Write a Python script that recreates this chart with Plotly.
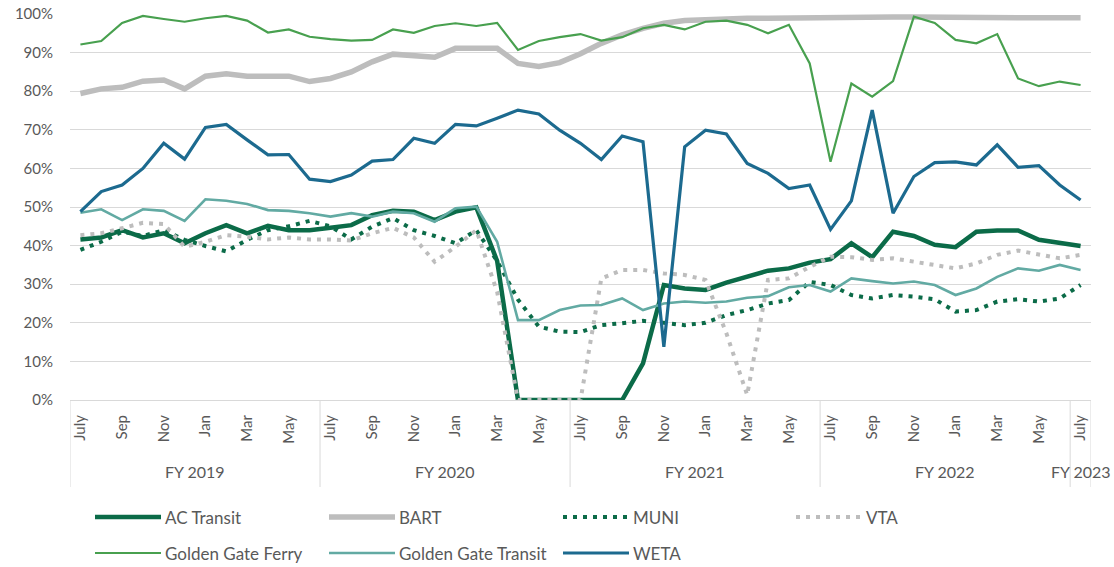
import plotly.graph_objects as go

# ---------------- data ----------------
periods = [f"{m} {y}" for y, ms in [(2018, ["Jul","Aug","Sep","Oct","Nov","Dec"]),
                                    (2019, ["Jan","Feb","Mar","Apr","May","Jun","Jul","Aug","Sep","Oct","Nov","Dec"]),
                                    (2020, ["Jan","Feb","Mar","Apr","May","Jun","Jul","Aug","Sep","Oct","Nov","Dec"]),
                                    (2021, ["Jan","Feb","Mar","Apr","May","Jun","Jul","Aug","Sep","Oct","Nov","Dec"]),
                                    (2022, ["Jan","Feb","Mar","Apr","May","Jun","Jul"])] for m in ms]

fiscal_years = ["FY 2019", "FY 2020", "FY 2021", "FY 2022", "FY 2023"]
fy_start_index = [0, 12, 24, 36, 48]
month_tick_labels = ["July", "Sep", "Nov", "Jan", "Mar", "May"]

ac_transit = [41.6,42.1,44.0,42.1,43.2,40.6,43.2,45.3,43.2,45.1,44.0,44.0,44.6,
              45.3,47.9,49.0,48.8,46.6,48.8,49.9,36.0,0,0,0,0,0,0,9.5,29.8,28.9,
              28.5,30.4,32.1,33.5,34.1,35.6,36.5,40.6,37.0,43.6,42.5,40.2,39.6,43.6,
              43.9,43.9,41.5,40.8,39.9]
bart = [79.4,80.6,81.0,82.6,82.9,80.6,83.9,84.5,83.9,83.8,83.9,82.5,83.3,
        85.0,87.6,89.6,89.1,88.8,91.1,91.1,91.1,87.2,86.4,87.4,89.7,92.4,94.6,
        96.3,97.6,98.3,98.6,98.8,98.9,98.9,99.0,99.0,99.1,99.2,99.3,99.2,99.2,
        99.1,99.1,99.0,99.0,99.0,99.0,99.0,99.0]
muni = [38.9,41.0,43.6,42.5,44.0,41.5,39.9,38.5,41.5,44.0,45.0,46.4,45.0,
        41.6,44.9,47.1,44.0,42.5,40.6,44.0,36.0,26.0,19.0,17.7,17.6,19.4,19.9,
        20.5,20.0,19.4,20.0,22.0,23.3,25.0,25.9,30.6,29.8,27.2,26.3,27.2,26.8,
        26.1,22.9,23.3,25.5,26.1,25.5,26.3,29.8]
vta = [42.7,43.2,44.5,45.9,45.6,39.7,41.0,42.7,42.3,41.6,42.1,41.6,41.6,
       41.3,43.2,44.6,42.1,35.8,39.7,44.0,28.0,0,0,0,0,31.5,33.7,33.7,32.8,
       32.4,31.1,17.3,1.3,31.1,31.5,34.5,37.1,37.0,36.3,36.7,35.8,35.0,34.1,
       35.4,37.6,38.7,37.6,36.7,37.6]
golden_gate_ferry = [92.1,93.0,97.7,99.5,98.7,98.0,98.9,99.5,98.3,95.2,96.0,94.1,93.5,
                     93.1,93.3,96.0,95.1,96.9,97.6,96.9,97.7,90.7,93.0,94.0,94.8,93.1,
                     94.0,96.3,97.2,96.0,98.0,98.3,97.2,95.0,97.2,87.2,61.7,82.0,78.6,
                     82.6,99.3,97.7,93.3,92.4,94.8,83.3,81.3,82.5,81.6]
golden_gate_transit = [48.5,49.4,46.6,49.4,49.0,46.4,52.0,51.6,50.8,49.2,49.0,48.4,47.5,
                       48.4,47.5,48.8,48.4,46.2,49.7,50.1,41.0,20.7,20.7,23.3,24.5,24.6,
                       26.3,23.3,25.0,25.5,25.2,25.5,26.5,26.9,29.2,29.8,28.1,31.5,30.8,
                       30.2,30.7,29.8,27.2,28.9,31.9,34.1,33.5,35.0,33.7]
weta = [48.8,54.0,55.7,60.0,66.5,62.4,70.6,71.4,67.4,63.5,63.6,57.2,56.6,
        58.3,61.9,62.3,67.8,66.5,71.4,71.0,73.0,75.1,74.1,69.9,66.5,62.3,68.4,
        66.9,13.8,65.6,69.9,68.9,61.3,58.7,54.8,55.7,44.2,51.6,75.1,48.4,57.9,
        61.5,61.7,60.9,66.1,60.3,60.7,55.7,51.8]

series_names = ["AC Transit", "BART", "MUNI", "VTA",
                "Golden Gate Ferry", "Golden Gate Transit", "WETA"]
series_values = [ac_transit, bart, muni, vta,
                 golden_gate_ferry, golden_gate_transit, weta]

# ---------------- styles ----------------
styles = {
    "AC Transit": dict(color="#0B6B48", width=4.5, dash="solid"),
    "BART": dict(color="#BDBDBD", width=5.5, dash="solid"),
    "MUNI": dict(color="#0B6B48", width=4, dash="4px,6px"),
    "VTA": dict(color="#BDBDBD", width=4, dash="4px,6px"),
    "Golden Gate Ferry": dict(color="#48A04F", width=2.2, dash="solid"),
    "Golden Gate Transit": dict(color="#62AAA3", width=2.6, dash="solid"),
    "WETA": dict(color="#1C6A8F", width=3.2, dash="solid"),
}

FONT = "Lato, 'Liberation Sans', Arial, sans-serif"
TXT = "#595959"
GRID = "#D9D9D9"

W, H = 1114, 567
PL, PR, PT, PB = 70, 1091, 14, 400  # plot area in pixels


def px_x(px):
    return (px - PL) / (PR - PL)


def px_y(py):
    return (PB - py) / (PB - PT)


x = list(range(len(periods)))

fig = go.Figure()
for name, vals in zip(series_names, series_values):
    st = styles[name]
    fig.add_trace(go.Scatter(
        x=x, y=[v / 100 for v in vals], mode="lines", name=name,
        line=dict(color=st["color"], width=st["width"], dash=st["dash"]),
        showlegend=False, hoverinfo="skip",
    ))

tickvals = x[::2]
ticktext = [month_tick_labels[i % 6] for i in range(len(tickvals))]

fig.update_xaxes(
    range=[-0.5, len(x) - 0.5], tickvals=tickvals, ticktext=ticktext,
    tickangle=-90, showgrid=False, zeroline=False, showline=True,
    linecolor=GRID, linewidth=1, ticks="", ticklabelstandoff=8,
    automargin=False,
    tickfont=dict(family=FONT, size=15, color=TXT),
)
fig.update_yaxes(
    range=[0, 1], dtick=0.1, tickformat=".0%", showgrid=True,
    gridcolor=GRID, gridwidth=1, zeroline=False, showline=False,
    ticks="", ticklabelstandoff=16, automargin=False,
    tickfont=dict(family=FONT, size=15, color=TXT),
)

shapes = []
annotations = []
# fiscal-year separators
sep_positions = [s - 0.5 for s in fy_start_index] + [len(x) - 0.5]
for sp in sep_positions:
    shapes.append(dict(type="line", xref="x", yref="paper", x0=sp, x1=sp,
                       y0=0, y1=px_y(487), line=dict(color=GRID, width=1)))
# fiscal-year labels
for i, fy in enumerate(fiscal_years):
    start = fy_start_index[i]
    end = fy_start_index[i + 1] - 1 if i + 1 < len(fy_start_index) else len(x) - 1
    annotations.append(dict(x=(start + end) / 2, y=px_y(471), xref="x", yref="paper",
                            text=fy, showarrow=False, xanchor="center", yanchor="middle",
                            font=dict(family=FONT, size=16, color=TXT)))

# legend (manual, two rows)
legend_cols = [95, 329, 563, 796]
legend_rows = [517, 553]
for k, name in enumerate(series_names):
    r, c = divmod(k, 4)
    st = styles[name]
    x0 = legend_cols[c]
    yy = legend_rows[r]
    shapes.append(dict(type="line", xref="paper", yref="paper",
                       x0=px_x(x0), x1=px_x(x0 + 66), y0=px_y(yy), y1=px_y(yy),
                       line=dict(color=st["color"], width=st["width"], dash=st["dash"])))
    annotations.append(dict(x=px_x(x0 + 68), y=px_y(yy), xref="paper", yref="paper",
                            text=name, showarrow=False, xanchor="left", yanchor="middle",
                            font=dict(family=FONT, size=17, color=TXT)))

fig.update_layout(
    width=W, height=H,
    margin=dict(l=PL, r=W - PR, t=PT, b=H - PB),
    plot_bgcolor="white", paper_bgcolor="white",
    shapes=shapes, annotations=annotations,
    showlegend=False,
)

fig.write_html("out.html", config={"displayModeBar": False},
               post_script="document.body.style.margin='0px';document.body.style.overflow='hidden';")
